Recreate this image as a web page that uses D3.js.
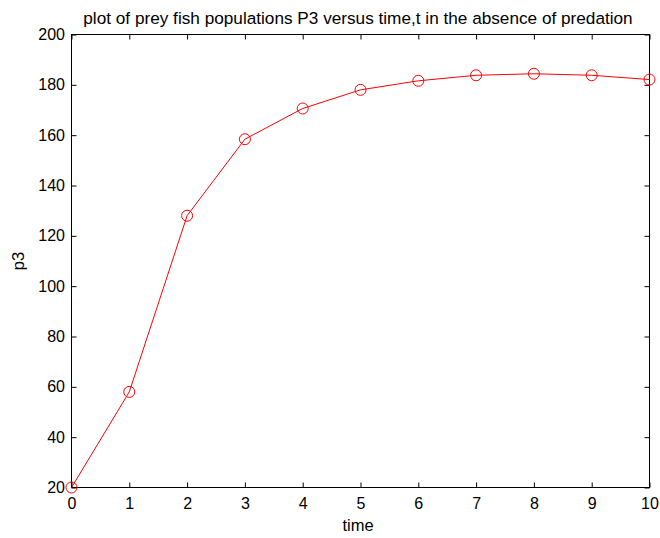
<!DOCTYPE html>
<html><head><meta charset="utf-8">
<script src="https://cdn.jsdelivr.net/npm/d3@7"></script>
<style>body{margin:0;background:#fff;} text{font-family:"Liberation Sans",Arial,sans-serif;}</style>
</head><body>
<svg id="c" width="660" height="538"></svg>
<script>
const timeValues = [0,1,2,3,4,5,6,7,8,9,10];
const p3Values = [20,58,128,158.4,170.6,178,181.6,183.8,184.4,183.8,182.1];
const xTicks = [0,1,2,3,4,5,6,7,8,9,10];
const yTicks = [20,40,60,80,100,120,140,160,180,200];

const svg = d3.select("#c");
const L=71.5, R=649.5, T=34.5, B=487.5;
const x = d3.scaleLinear().domain([0,10]).range([L,R]);
const y = d3.scaleLinear().domain([20,200]).range([B,T]);

svg.append("rect").attr("width",660).attr("height",538).attr("fill","#fff");

const axStyle = g => {
  g.select(".domain").remove();
  g.selectAll("line").attr("stroke","#000");
  g.selectAll("text").attr("font-size",16).attr("fill","#000");
};
svg.append("g").attr("transform",`translate(0,${B})`)
  .call(d3.axisBottom(x).tickValues(xTicks).tickSize(-5).tickPadding(10).tickFormat(d3.format("d")))
  .call(axStyle);
svg.append("g").attr("transform",`translate(0,${T})`)
  .call(d3.axisTop(x).tickValues(xTicks).tickSize(-5).tickFormat(""))
  .call(axStyle);
svg.append("g").attr("transform",`translate(${L},0)`)
  .call(d3.axisLeft(y).tickValues(yTicks).tickSize(-5).tickPadding(6.5).tickFormat(d3.format("d")))
  .call(axStyle);
svg.append("g").attr("transform",`translate(${R},0)`)
  .call(d3.axisRight(y).tickValues(yTicks).tickSize(-5).tickFormat(""))
  .call(axStyle);

svg.append("rect").attr("x",L).attr("y",T).attr("width",R-L).attr("height",B-T)
  .attr("fill","none").attr("stroke","#000").attr("stroke-width",1);

const data = timeValues.map((t,i)=>({t, p:p3Values[i]}));
svg.append("path").datum(data)
  .attr("d", d3.line().x(d=>x(d.t)).y(d=>y(d.p)))
  .attr("fill","none").attr("stroke","#ff0000").attr("stroke-width",1);
svg.selectAll("circle.m").data(data).enter().append("circle")
  .attr("cx",d=>x(d.t)).attr("cy",d=>y(d.p)).attr("r",5.5)
  .attr("fill","none").attr("stroke","#ff0000").attr("stroke-width",1);

svg.append("text").attr("x",358).attr("y",24).attr("text-anchor","middle")
  .attr("font-size",17.2).text("plot of prey fish populations P3 versus time,t in the absence of predation");
svg.append("text").attr("x",358).attr("y",531).attr("text-anchor","middle")
  .attr("font-size",16.5).text("time");
svg.append("text").attr("transform",`translate(24,${(T+B)/2}) rotate(-90)`).attr("text-anchor","middle")
  .attr("font-size",16.5).text("p3");
</script>
</body></html>
